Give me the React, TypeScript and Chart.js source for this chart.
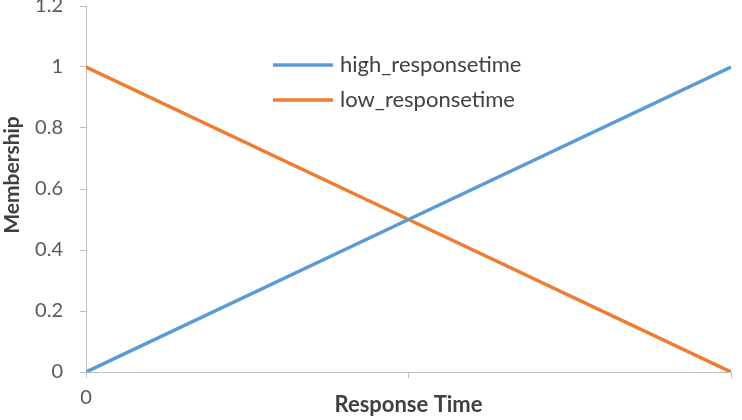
import React, { useEffect, useRef } from "react";
import { Chart, registerables } from "chart.js";
Chart.register(...registerables);

const xValues = [0, 1, 2];
const highResponseTime = [0, 0.5, 1];
const lowResponseTime = [1, 0.5, 0];
const seriesNames = ["high_responsetime", "low_responsetime"];
const yTicks = [0, 0.2, 0.4, 0.6, 0.8, 1, 1.2];
const xTickLabels = ["0", "", ""];
const xTitle = "Response Time";
const yTitle = "Membership";

const FONT = "Lato, 'Open Sans', sans-serif";
const AXIS = "#BFBFBF";
const TEXT = "#595959";

const insideLegend = {
  id: "insideLegend",
  afterDraw(chart: any) {
    const ctx = chart.ctx;
    ctx.save();
    chart.data.datasets.forEach((ds: any, i: number) => {
      const y = 65 + i * 35;
      ctx.strokeStyle = ds.borderColor;
      ctx.lineWidth = 3.5;
      ctx.beginPath();
      ctx.moveTo(273, y);
      ctx.lineTo(333, y);
      ctx.stroke();
      ctx.fillStyle = "#404040";
      ctx.font = `22px ${FONT}`;
      ctx.textBaseline = "middle";
      ctx.textAlign = "left";
      ctx.fillText(ds.label, 340, y);
    });
    // y-axis title
    const ca = chart.chartArea;
    ctx.translate(12, (ca.top + ca.bottom) / 2 - 14);
    ctx.rotate(-Math.PI / 2);
    ctx.fillStyle = "#404040";
    ctx.font = `bold 21px ${FONT}`;
    ctx.textAlign = "center";
    ctx.textBaseline = "middle";
    ctx.fillText(yTitle, 0, 0);
    ctx.restore();
  },
};

export default function App() {
  const ref = useRef<HTMLCanvasElement>(null);
  useEffect(() => {
    if (!ref.current) return;
    const chart = new Chart(ref.current, {
      type: "line",
      data: {
        datasets: [
          {
            label: seriesNames[0],
            data: xValues.map((x, i) => ({ x, y: highResponseTime[i] })),
            borderColor: "#5B9BD5",
            backgroundColor: "#5B9BD5",
            borderWidth: 3.5,
            pointRadius: 0,
            tension: 0,
          },
          {
            label: seriesNames[1],
            data: xValues.map((x, i) => ({ x, y: lowResponseTime[i] })),
            borderColor: "#ED7D31",
            backgroundColor: "#ED7D31",
            borderWidth: 3.5,
            pointRadius: 0,
            tension: 0,
          },
        ],
      },
      options: {
        animation: false,
        responsive: true,
        maintainAspectRatio: false,
        layout: { padding: { top: 6, right: 11, left: 0, bottom: 0 } },
        plugins: { legend: { display: false }, tooltip: { enabled: false } },
        scales: {
          x: {
            type: "linear",
            min: 0,
            max: 2,
            afterBuildTicks: (s: any) => {
              s.ticks = xValues.map((v) => ({ value: v }));
            },
            ticks: {
              autoSkip: false,
              maxRotation: 0,
              padding: 8,
              color: TEXT,
              font: { family: FONT, size: 20 },
              callback: (v: any) => xTickLabels[xValues.indexOf(v)] ?? "",
            },
            grid: { drawOnChartArea: false, drawTicks: true, tickLength: 6, color: AXIS },
            border: { color: AXIS, width: 1 },
            title: {
              display: true,
              text: xTitle,
              color: "#404040",
              font: { family: FONT, size: 22, weight: "bold" },
              padding: { top: 0, bottom: 2 },
            },
            afterFit: (s: any) => {
              s.height = 48;
              s.paddingLeft = 0;
              s.paddingRight = 0;
            },
          },
          y: {
            type: "linear",
            min: 0,
            max: 1.2,
            afterBuildTicks: (s: any) => {
              s.ticks = yTicks.map((v) => ({ value: v }));
            },
            ticks: {
              padding: 17,
              color: TEXT,
              font: { family: FONT, size: 20 },
              callback: (v: any) => String(Number(Number(v).toFixed(1))),
            },
            grid: { drawOnChartArea: false, drawTicks: true, tickLength: 6, color: AXIS },
            border: { color: AXIS, width: 1 },
            title: { display: false },
            afterFit: (s: any) => {
              s.width = 86;
              s.paddingTop = 0;
              s.paddingBottom = 0;
            },
          },
        },
      },
      plugins: [insideLegend],
    });
    return () => chart.destroy();
  }, []);
  return (
    <div style={{ position: "fixed", left: 0, top: 0, width: 742, height: 420, background: "#fff" }}>
      <canvas ref={ref} />
    </div>
  );
}
